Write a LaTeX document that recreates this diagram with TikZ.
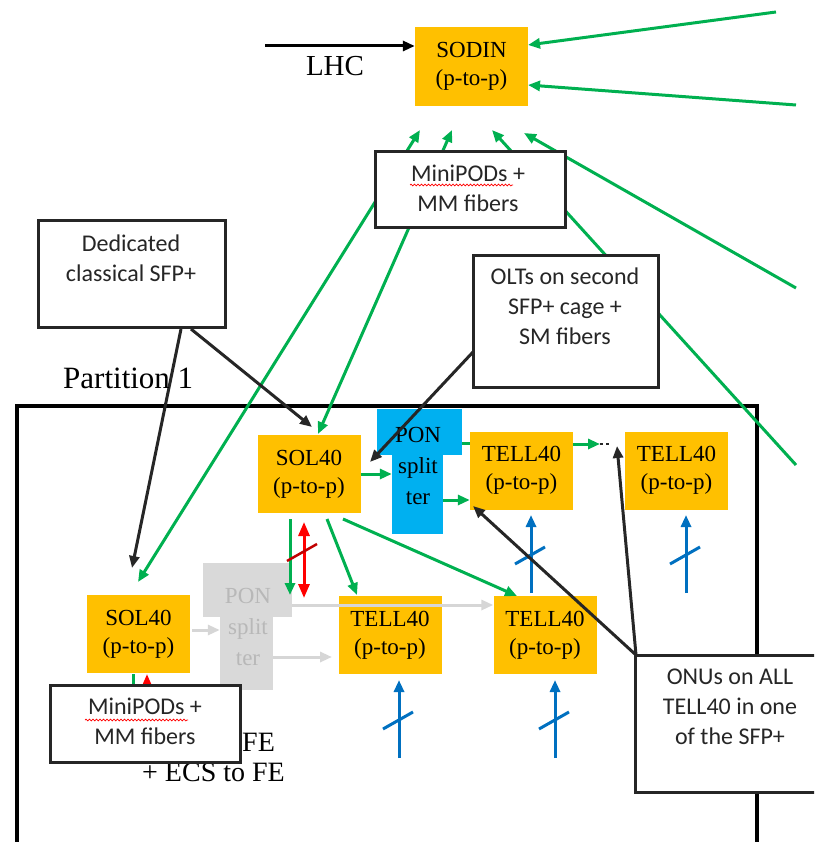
\documentclass[tikz,border=0pt]{standalone}
\usepackage{fontspec}
\setmainfont{Liberation Serif}
\newfontfamily\calfont{Carlito}
\usetikzlibrary{arrows.meta,decorations.pathmorphing}
\definecolor{orng}{HTML}{FFC000}
\definecolor{grn}{HTML}{00B050}
\definecolor{ponblue}{HTML}{00B0F0}
\definecolor{arrblue}{HTML}{0070C0}
\definecolor{dk}{HTML}{262626}
\definecolor{ponfill}{HTML}{D9D9D9}
\definecolor{pontext}{HTML}{B8B8B8}
\definecolor{gyarr}{HTML}{D6D6D6}
\definecolor{dred}{HTML}{C00000}
\pgfdeclarelayer{bg}
\pgfsetlayers{bg,main}
\begin{document}
\begin{tikzpicture}[x=1pt,y=-1pt,>={Triangle[length=12pt,width=10pt]},
 obox/.style={fill=orng, minimum width=103pt, minimum height=78pt, inner sep=0pt, align=center, font=\fontsize{23}{28}\selectfont},
 callout/.style={draw=dk, line width=3pt, fill=white, inner sep=0pt},
 ctext/.style={font=\calfont\fontsize{24}{30}\selectfont, align=center, text=black!85, inner sep=0pt},
 gline/.style={draw=grn, line width=3pt},
 kline/.style={draw=dk, line width=3pt},
 bline/.style={draw=arrblue, line width=3pt},
 rline/.style={draw=red, line width=3pt},
 gyline/.style={draw=gyarr, line width=3pt},
 wavy/.style={draw=red, line width=0.7pt, decorate, decoration={snake, amplitude=0.9pt, segment length=3.5pt}},
 sertext/.style={inner sep=0pt, anchor=base west},
 ponpart/.style={inner sep=0pt, fill=ponblue},
 gponpart/.style={inner sep=0pt, fill=ponfill},
 pontxt/.style={inner sep=0pt, align=center, font=\fontsize{23}{31}\selectfont}
]
\useasboundingbox (0,0) rectangle (814,842);
\clip (0,0) rectangle (814,842);

% ---------- named points ----------
\coordinate (lhcS) at (265,46);
\coordinate (eR1) at (776,12);
\coordinate (eR2) at (796,105);
\coordinate (eR3) at (796,288);
\coordinate (eR4) at (796,465);
\coordinate (sIn1) at (528,45);
\coordinate (sIn2) at (528,85);
\coordinate (sB1) at (420,130);
\coordinate (sB2) at (452,130);
\coordinate (sB3) at (492,130);
\coordinate (sB4) at (524,133);
\coordinate (solLtop) at (138,582);
\coordinate (solCtop) at (318,434);
\coordinate (dedA) at (181,329);
\coordinate (dedB) at (191,329);
\coordinate (solLtip) at (132,568);
\coordinate (solCtip) at (312,427);
\coordinate (oltS) at (473,352);
\coordinate (solCtip2) at (370,462);
\coordinate (onuC) at (636,655);
\coordinate (tellAtip) at (473,506);
\coordinate (dashTip) at (617,446);

% ---------- callouts ----------
\node[callout, minimum width=190pt, minimum height=75pt] (minitop) at (470,189.5) {};
\node[callout, minimum width=187pt, minimum height=106pt] (ded) at (131.5,274) {};
\node[callout, minimum width=185pt, minimum height=132pt] (olt) at (565.5,321) {};

% ---------- orange boxes ----------
\node[obox, minimum width=113pt, minimum height=79pt] (sodin) at (471.5,66.5) {SODIN\\(p-to-p)};
\node[obox] (solC) at (309,474) {SOL40\\(p-to-p)};
\node[obox] (tellA) at (521.5,470.5) {TELL40\\(p-to-p)};
\node[obox] (tellB) at (676.5,470.5) {TELL40\\(p-to-p)};
\node[obox] (tellC) at (390,635) {TELL40\\(p-to-p)};
\node[obox] (tellD) at (545,635) {TELL40\\(p-to-p)};
\node[obox] (solL) at (138.5,634) {SOL40\\(p-to-p)};

% ---------- PON splitters ----------
\node[ponpart, minimum width=85pt, minimum height=46pt] (pontop) at (419.5,432) {};
\node[ponpart, minimum width=51pt, minimum height=79pt] (ponlow) at (417.5,494) {};
\node[pontxt] (pon) at (418,466) {PON\\split\\ter};
\node[gponpart, minimum width=89pt, minimum height=54pt] (gpontop) at (247.5,590) {};
\node[gponpart, minimum width=53pt, minimum height=74pt] (gponlow) at (246.5,653) {};
\node[pontxt, text=pontext] (gpon) at (248,627) {PON\\split\\ter};

% ---------- background lines ----------
\begin{pgfonlayer}{bg}
\draw[line width=3.5pt] (17,850) -- (17,406) -- (757,406) -- (757,850);
\draw[gline,->] (eR1) -- (sIn1);
\draw[gline,->] (eR2) -- (sIn2);
\draw[gline,<->] (solLtop) -- (sB1);
\draw[gline,<->] (solCtop) -- (sB2);
\draw[gline,->] (eR4) -- (sB3);
\draw[gline,->] (eR3) -- (sB4);
\end{pgfonlayer}

% ---------- LHC ----------
\draw[line width=3pt,->] (lhcS) -- (lhcS -| sodin.west);
\node[sertext, anchor=base, font=\fontsize{29}{32}\selectfont] (lhc) at (335,76) {LHC};

% ---------- callout arrows ----------
\draw[kline,->] (dedA) -- (solLtip);
\draw[kline,->] (dedB) -- (solCtip);

% gray arrows
\coordinate (g1) at (192,630);
\draw[gyline,->] (g1) -- (g1 -| gponlow.west);
\coordinate (g2) at (273,657);
\coordinate (g2e) at (332,657);
\draw[gyline,->] (g2) -- (g2e);
\coordinate (g3) at (292,605);
\draw[gyline,->] (g3) -- (g3 -| tellD.west);

% green short arrows
\coordinate (c1) at (360.5,474);
\draw[gline,->] (c1) -- (c1 -| ponlow.west);
\coordinate (c2) at (443,500);
\draw[gline,->] (c2) -- (c2 -| tellA.west);
\coordinate (c3) at (462,443);
\draw[gline] (c3) -- (c3 -| tellA.west);
\coordinate (c4) at (573,444);
\coordinate (c4e) at (600,444);
\coordinate (c4f) at (610,444);
\draw[gline,->] (c4) -- (c4e);
\draw[dk, line width=2.5pt, dash pattern=on 3pt off 3pt] (c4e) -- (c4f);

\coordinate (d1) at (290,519);
\coordinate (d1e) at (290,595);
\draw[gline,->] (d1) -- (d1e);
\coordinate (d2) at (327,519);
\coordinate (d2e) at (357,595);
\draw[gline,->] (d2) -- (d2e);
\coordinate (d3) at (343,519);
\coordinate (d3e) at (517,596);
\draw[gline,->] (d3) -- (d3e);

% red double arrow + slash
\coordinate (r1) at (304,522);
\coordinate (r1e) at (304,598);
\draw[rline,<->,>={Triangle[length=14pt,width=11pt]}] (r1) -- (r1e);
\coordinate (rs1) at (287,561);
\coordinate (rs2) at (317,544);
\draw[draw=dred, line width=2.5pt] (rs1) -- (rs2);

% blue arrows with slash
\foreach \nm/\bx/\by/\ty in {ba/531/593/515, bb/686/593/515, bc/399/758/680, bd/555/758/680}{
  \coordinate (\nm s) at (\bx,\by);
  \coordinate (\nm e) at (\bx,\ty);
  \draw[bline,->] (\nm s) -- (\nm e);
  \coordinate (\nm m) at (\bx,\by-38);
  \draw[bline] ([shift={(-16,9)}]\nm m) -- ([shift={(14,-8)}]\nm m);
}

% OLT arrow
\draw[kline,->] (oltS) -- (solCtip2);

% ONU arrows
\draw[kline,->] (onuC) -- (tellAtip);
\draw[kline,->] (onuC) -- (dashTip);

% ONU callout
\node[callout, minimum width=190pt, minimum height=137pt] (onu) at (730,723.5) {};

% stubs below left SOL40
\coordinate (ls1) at (133,674);
\coordinate (ls1e) at (133,700);
\draw[gline] (ls1) -- (ls1e);
\coordinate (ls2) at (147,700);
\coordinate (ls2e) at (147,674);
\draw[rline,->,>={Triangle[length=14pt,width=11pt]}] (ls2) -- (ls2e);

% texts partly hidden
\node[sertext, font=\fontsize{28}{32}\selectfont] (fe1) at (242,751) {FE};
\node[sertext, font=\fontsize{28}{32}\selectfont] (fe2) at (142,781) {+ ECS to FE};

% bottom MiniPODs callout
\node[callout, minimum width=190pt, minimum height=77pt] (minibot) at (145,723.5) {};

% callout texts
\node[ctext] (minitoptxt) at (468,188) {MiniPODs +\\MM fibers};
\node[ctext] (dedtxt) at (131,258) {Dedicated\\classical SFP+};
\node[ctext] (olttxt) at (565,306) {OLTs on second\\SFP+ cage +\\SM fibers};
\node[ctext] (onutxt) at (730,707) {ONUs on ALL\\TELL40 in one\\of the SFP+};
\node[ctext] (minibottxt) at (145,721) {MiniPODs +\\MM fibers};
\coordinate (w1) at (410,185);
\coordinate (w1e) at (513,185);
\draw[wavy] (w1) -- (w1e);
\coordinate (w2) at (85,720);
\coordinate (w2e) at (188,720);
\draw[wavy] (w2) -- (w2e);

% Partition label
\node[sertext, font=\fontsize{31}{34}\selectfont] (part) at (63,388) {Partition 1};
\end{tikzpicture}
\end{document}
